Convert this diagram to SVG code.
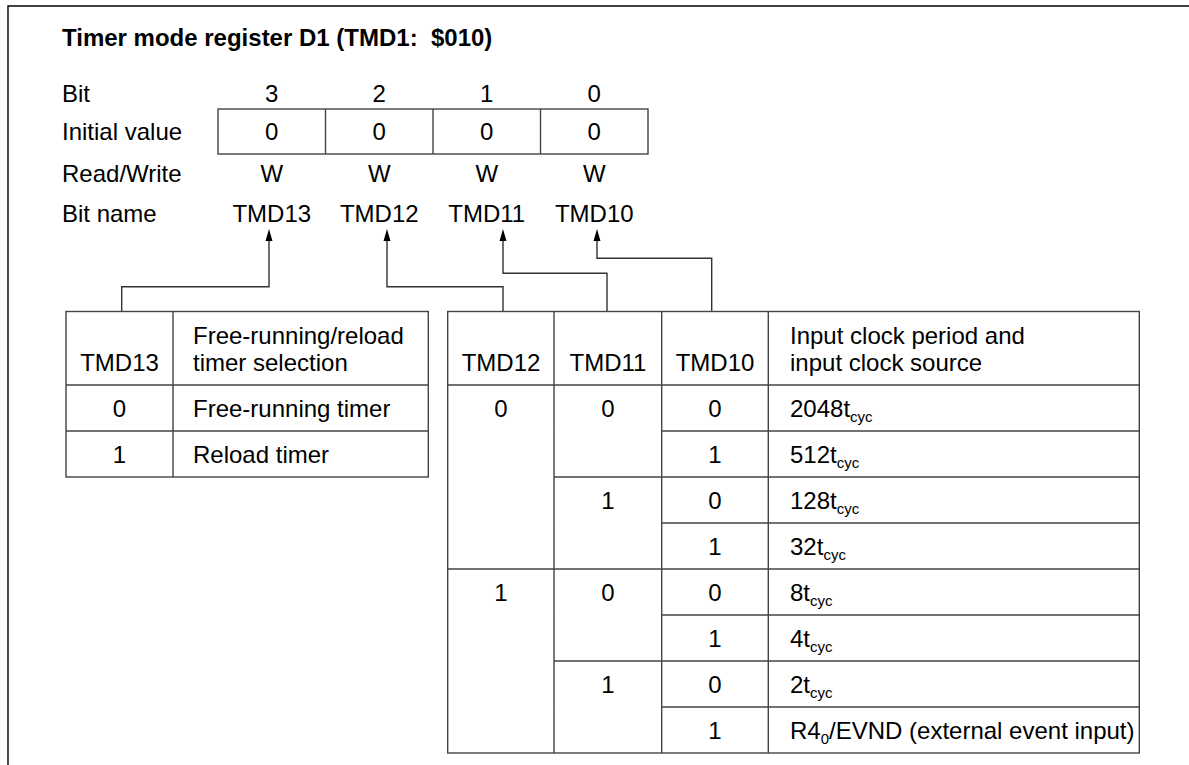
<svg xmlns="http://www.w3.org/2000/svg" width="1189" height="765" viewBox="0 0 1189 765">
<defs>
<style>
text{font-family:"Liberation Sans",Arial,sans-serif;font-size:24px;fill:#000}
.b{font-weight:bold}
.c{text-anchor:middle}
.ln{stroke:#444;stroke-width:1.4;fill:none}
.fr{stroke:#000;stroke-width:1.4;fill:none}
.cn{stroke:#333;stroke-width:1.4;fill:none}
.s{font-size:15px}
</style>
<marker id="ah" markerWidth="8" markerHeight="12" refX="3.5" refY="0" orient="auto-start-reverse" markerUnits="userSpaceOnUse" viewBox="0 0 7 12">
<path d="M0,12 L3.5,0 L7,12 Z" fill="#000"/>
</marker>
</defs>
<rect width="1189" height="765" fill="#fff"/>
<path class="fr" d="M8,765 V6 H1189"/>
<text class="b" x="62" y="46" xml:space="preserve">Timer mode register D1 (TMD1:  $010)</text>

<g id="register">
<text x="62" y="102">Bit</text>
<text x="62" y="140">Initial value</text>
<text x="62" y="182">Read/Write</text>
<text x="62" y="222">Bit name</text>
<text class="c" x="271.75" y="102">3</text>
<text class="c" x="379.25" y="102">2</text>
<text class="c" x="486.75" y="102">1</text>
<text class="c" x="594.25" y="102">0</text>
<rect class="ln" x="218" y="109" width="430" height="45"/>
<path class="ln" d="M325.5,109 V154 M433,109 V154 M540.5,109 V154"/>
<text class="c" x="271.75" y="140">0</text>
<text class="c" x="379.25" y="140">0</text>
<text class="c" x="486.75" y="140">0</text>
<text class="c" x="594.25" y="140">0</text>
<text class="c" x="271.75" y="182">W</text>
<text class="c" x="379.25" y="182">W</text>
<text class="c" x="486.75" y="182">W</text>
<text class="c" x="594.25" y="182">W</text>
<text class="c" x="271.75" y="222">TMD13</text>
<text class="c" x="379.25" y="222">TMD12</text>
<text class="c" x="486.75" y="222">TMD11</text>
<text class="c" x="594.25" y="222">TMD10</text>
</g>

<g id="connectors">
<path class="cn" d="M121.7,311.5 V286.7 H269 V241" />
<path class="cn" d="M503,311.5 V286.7 H387 V241" />
<path class="cn" d="M607,311.5 V273.3 H503 V241" />
<path class="cn" d="M711.7,311.5 V258.3 H597 V241" />
<path d="M265.5,241 L269,229 L272.5,241 Z M383.5,241 L387,229 L390.5,241 Z M499.5,241 L503,229 L506.5,241 Z M593.5,241 L597,229 L600.5,241 Z" fill="#000"/>
</g>

<g id="table-tmd13">
<rect class="ln" x="66" y="311.5" width="362.3" height="165.5"/>
<path class="ln" d="M173,311.5 V477 M66,385 H428.3 M66,431 H428.3"/>
<text class="c" x="119.5" y="371">TMD13</text>
<text x="193" y="344">Free-running/reload</text>
<text x="193" y="371">timer selection</text>
<text class="c" x="119.5" y="416.5">0</text>
<text x="193" y="416.5">Free-running timer</text>
<text class="c" x="119.5" y="462.5">1</text>
<text x="193" y="462.5">Reload timer</text>
</g>

<g id="table-clock">
<rect class="ln" x="447.7" y="311.5" width="691.6" height="441.5"/>
<path class="ln" d="M554,311.5 V753 M661.7,311.5 V753 M768.3,311.5 V753 M447.7,385 H1139.3 M447.7,569 H1139.3 M554,477 H1139.3 M554,661 H1139.3 M661.7,431 H1139.3 M661.7,523 H1139.3 M661.7,615 H1139.3 M661.7,707 H1139.3"/>
<text class="c" x="501" y="371">TMD12</text>
<text class="c" x="608" y="371">TMD11</text>
<text class="c" x="715" y="371">TMD10</text>
<text x="790" y="344">Input clock period and</text>
<text x="790" y="371">input clock source</text>
<text class="c" x="501" y="416.5">0</text>
<text class="c" x="501" y="600.5">1</text>
<text class="c" x="608" y="416.5">0</text>
<text class="c" x="608" y="508.5">1</text>
<text class="c" x="608" y="600.5">0</text>
<text class="c" x="608" y="692.5">1</text>
<text class="c" x="715" y="416.5">0</text>
<text class="c" x="715" y="462.5">1</text>
<text class="c" x="715" y="508.5">0</text>
<text class="c" x="715" y="554.5">1</text>
<text class="c" x="715" y="600.5">0</text>
<text class="c" x="715" y="646.5">1</text>
<text class="c" x="715" y="692.5">0</text>
<text class="c" x="715" y="738.5">1</text>
<text x="790" y="416.5">2048t<tspan class="s" dy="5">cyc</tspan></text>
<text x="790" y="462.5">512t<tspan class="s" dy="5">cyc</tspan></text>
<text x="790" y="508.5">128t<tspan class="s" dy="5">cyc</tspan></text>
<text x="790" y="554.5">32t<tspan class="s" dy="5">cyc</tspan></text>
<text x="790" y="600.5">8t<tspan class="s" dy="5">cyc</tspan></text>
<text x="790" y="646.5">4t<tspan class="s" dy="5">cyc</tspan></text>
<text x="790" y="692.5">2t<tspan class="s" dy="5">cyc</tspan></text>
<text x="790" y="738.5">R4<tspan class="s" dy="5">0</tspan><tspan dy="-5">/EVND (external event input)</tspan></text>
</g>
</svg>
